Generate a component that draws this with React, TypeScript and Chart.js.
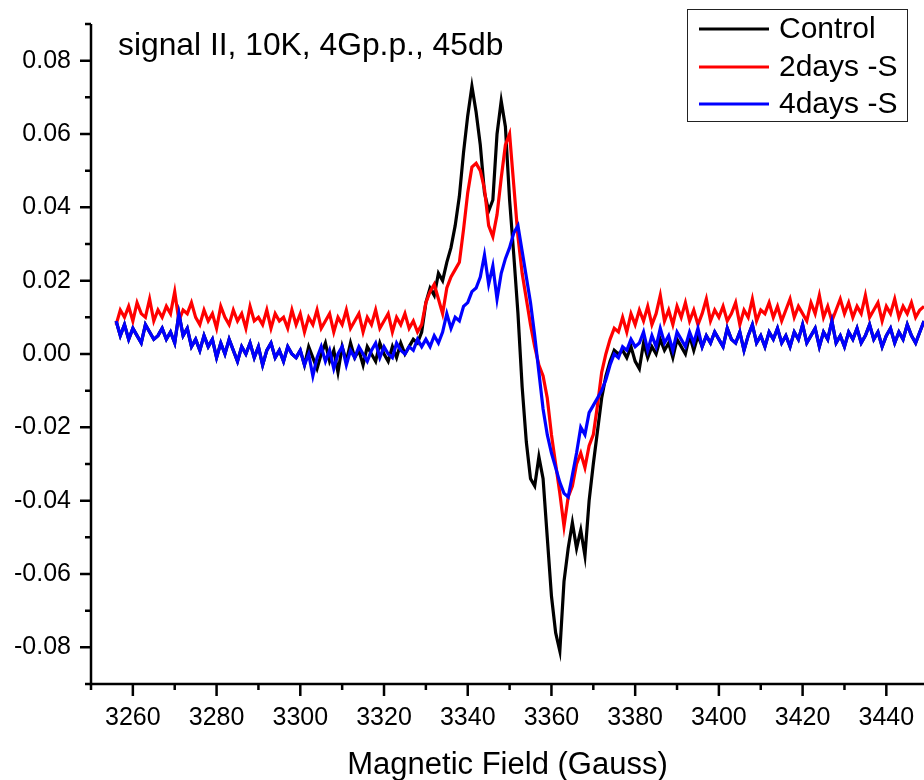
import React, { useEffect, useRef } from 'react';
import { Chart, registerables } from 'chart.js';

Chart.register(...registerables);

const FONT = '"Liberation Sans", Arial, Helvetica, sans-serif';

// Field sweep: one sample per gauss, starting at 3256 G
const fieldStart = 3256;
const fieldStep = 1;

// EPR first-derivative signal, in thousandths of the plotted intensity unit
const control = [
  9, 5, 8, 4, 7, 5, 3, 8, 6, 4,
  5, 7, 4, 6, 3, 11, 5, 7, 2, 4,
  1, 5, 2, 4, -1, 3, 0, 4, 1, -2,
  2, 0, 3, -1, 2, -3, 1, 3, -1, 1,
  -2, 2, 0, -1, 1, -3, 2, -1, -4, 0,
  3, -2, 1, -5, 2, -2, 3, -1, 1, -3,
  2, 0, -2, 3, 0, -2, 2, -1, 3, 0,
  2, 4, 3, 6, 14, 18, 16, 22, 20, 25,
  29, 35, 43, 55, 65, 73, 66, 57, 44, 39,
  42, 60, 69, 62, 42, 27, 11, -9, -24, -34,
  -36, -28, -34, -50, -66, -76, -81, -62, -53, -46,
  -53, -48, -55, -40, -30, -21, -12, -6, -2, 1,
  0, 1, -1, 2, -2, -4, 3, -1, 2, 0,
  4, 1, 3, -1, 4, 2, 0, 5, 1, 5,
  2, 5, 3, 6, 4, 2, 7, 4, 3, 6,
  1, 5, 8, 3, 5, 2, 6, 4, 7, 3,
  5, 2, 6, 4, 8, 3, 5, 7, 2, 6,
  4, 9, 3, 5, 2, 6, 4, 7, 3, 5,
  8, 4, 6, 2, 5, 7, 3, 6, 4, 8,
  5, 3, 6, 9,
];

const twoDays = [
  8, 12, 10, 13, 9, 14, 11, 10, 15, 9,
  12, 10, 13, 11, 17, 9, 12, 11, 14, 10,
  8, 12, 9, 11, 7, 13, 10, 8, 12, 9,
  11, 7, 13, 9, 10, 8, 12, 7, 11, 9,
  10, 7, 12, 8, 11, 6, 10, 8, 12, 7,
  9, 11, 6, 10, 8, 12, 7, 9, 11, 6,
  10, 8, 12, 7, 9, 11, 6, 10, 8, 11,
  7, 9, 6, 8, 14, 17, 19, 15, 11, 18,
  21, 23, 25, 34, 44, 51, 52, 50, 45, 35,
  32, 38, 48, 57, 60, 46, 32, 22, 15, 8,
  2, -3, -6, -12, -22, -30, -38, -47, -39, -36,
  -30, -27, -31, -25, -22, -14, -5, 0, 4, 7,
  6, 10, 6, 11, 8, 12, 9, 13, 8, 11,
  16, 9, 12, 8, 13, 10, 14, 9, 12, 8,
  11, 15, 9, 12, 10, 13, 9, 11, 14, 8,
  12, 10, 15, 9, 12, 11, 14, 10, 13, 9,
  12, 15, 10, 13, 11, 9, 14, 11, 16, 10,
  13, 9, 12, 15, 11, 14, 10, 13, 11, 16,
  10, 12, 14, 9, 13, 11, 15, 10, 13, 11,
  14, 10, 12, 13,
];

const fourDays = [
  9, 5, 8, 4, 7, 5, 3, 8, 6, 4,
  5, 7, 4, 6, 3, 11, 5, 7, 2, 4,
  1, 5, 2, 4, -1, 3, 0, 4, 1, -2,
  2, 0, 3, -1, 2, -3, 1, 3, -1, 1,
  -2, 2, 0, -1, 1, -3, 0, -6, -1, 2,
  -2, 1, -4, 0, 2, -3, 1, -1, 2, 0,
  -2, 1, 3, -1, 2, 0, -1, 3, 1, 0,
  2, 1, 4, 2, 4, 2, 5, 3, 6, 11,
  7, 10, 9, 13, 14, 17, 18, 21, 27, 19,
  24, 15, 22, 26, 29, 33, 35, 28, 21, 14,
  5, -5, -15, -22, -27, -31, -35, -38, -39, -33,
  -27, -20, -22, -16, -14, -12, -10, -7, -3, 0,
  -1, 2, 1, 4, 2, 3, 6, 1, 5, 2,
  7, 3, 5, 1, 6, 4, 2, 6, 3, 7,
  2, 5, 3, 6, 4, 2, 7, 4, 3, 6,
  1, 5, 8, 3, 5, 2, 6, 4, 7, 3,
  5, 2, 6, 4, 8, 3, 5, 7, 2, 6,
  4, 9, 3, 5, 2, 6, 4, 7, 3, 5,
  8, 4, 6, 2, 5, 7, 3, 6, 4, 8,
  5, 3, 6, 9,
];

const seriesValues = [control, twoDays, fourDays];
const seriesLabels = ['Control', '2days -S', '4days -S'];
const seriesColors = ['#000000', '#ff0000', '#0000ff'];

const xRange = [3250, 3449];
const yRange = [-0.09, 0.09];
const xMajorTicks = [3260, 3280, 3300, 3320, 3340, 3360, 3380, 3400, 3420, 3440];
const xMinorTicks = [3250, 3270, 3290, 3310, 3330, 3350, 3370, 3390, 3410, 3430];
const yMajorTicks = [-0.08, -0.06, -0.04, -0.02, 0, 0.02, 0.04, 0.06, 0.08];
const yMinorTicks = [-0.09, -0.07, -0.05, -0.03, -0.01, 0.01, 0.03, 0.05, 0.07, 0.09];

const titleText = 'signal II, 10K, 4Gp.p., 45db';
const xAxisTitle = 'Magnetic Field (Gauss)';

const toPoints = (values: number[]) =>
  values.map((v, i) => ({ x: fieldStart + i * fieldStep, y: v / 1000 }));

// Axes, tick marks, in-plot caption, legend box and axis title
const decorPlugin = {
  id: 'decor',
  afterDraw(chart: any) {
    const { ctx, chartArea: a, scales } = chart;
    const xs = scales.x;
    const ys = scales.y;
    ctx.save();
    ctx.strokeStyle = '#000';
    ctx.lineWidth = 2.5;
    ctx.lineCap = 'butt';

    ctx.beginPath();
    ctx.moveTo(a.left, a.top);
    ctx.lineTo(a.left, a.bottom);
    ctx.lineTo(a.right, a.bottom);
    ctx.stroke();

    const tick = (vals: number[], len: number, horizontal: boolean) => {
      ctx.beginPath();
      vals.forEach((v) => {
        if (horizontal) {
          const px = xs.getPixelForValue(v);
          ctx.moveTo(px, a.bottom);
          ctx.lineTo(px, a.bottom + len);
        } else {
          const py = ys.getPixelForValue(v);
          ctx.moveTo(a.left, py);
          ctx.lineTo(a.left - len, py);
        }
      });
      ctx.stroke();
    };
    tick(xMajorTicks, 12, true);
    tick(xMinorTicks, 6, true);
    tick(yMajorTicks, 11, false);
    tick(yMinorTicks, 6, false);

    ctx.fillStyle = '#000';
    ctx.textBaseline = 'alphabetic';

    ctx.font = `31.8px ${FONT}`;
    ctx.textAlign = 'left';
    ctx.fillText(titleText, 118, 55);

    ctx.font = `31px ${FONT}`;
    ctx.textAlign = 'center';
    ctx.fillText(xAxisTitle, (a.left + a.right) / 2, 774);

    // legend
    const bx = 687, by = 9, bw = 220, bh = 112;
    ctx.fillStyle = '#fff';
    ctx.fillRect(bx, by, bw, bh);
    ctx.lineWidth = 1;
    ctx.strokeStyle = '#222';
    ctx.strokeRect(bx + 0.5, by + 0.5, bw, bh);
    const rowY = [29, 67, 104];
    ctx.font = `30px ${FONT}`;
    ctx.textAlign = 'left';
    ctx.textBaseline = 'middle';
    seriesLabels.forEach((label, k) => {
      ctx.strokeStyle = seriesColors[k];
      ctx.lineWidth = 3;
      ctx.beginPath();
      ctx.moveTo(699, rowY[k]);
      ctx.lineTo(769, rowY[k]);
      ctx.stroke();
      ctx.fillStyle = '#000';
      ctx.fillText(label, 779, rowY[k] + 1);
    });
    ctx.restore();
  },
};

export default function App() {
  const canvasRef = useRef<HTMLCanvasElement | null>(null);

  useEffect(() => {
    if (!canvasRef.current) return;
    const chart = new Chart(canvasRef.current, {
      type: 'line',
      data: {
        datasets: seriesValues.map((vals, k) => ({
          label: seriesLabels[k],
          data: toPoints(vals),
          borderColor: seriesColors[k],
          backgroundColor: seriesColors[k],
          borderWidth: 3.2,
          pointRadius: 0,
          fill: false,
          tension: 0,
          order: seriesValues.length - k,
        })),
      },
      options: {
        animation: false,
        responsive: false,
        maintainAspectRatio: false,
        layout: { padding: { top: 24, right: 0, bottom: 0, left: 0 } },
        plugins: {
          legend: { display: false },
          tooltip: { enabled: false },
          title: { display: false },
        },
        scales: {
          x: {
            type: 'linear',
            min: xRange[0],
            max: xRange[1],
            grid: { display: false, drawTicks: false },
            border: { display: false },
            afterBuildTicks: (s: any) => {
              s.ticks = xMajorTicks.map((v) => ({ value: v }));
            },
            afterFit: (s: any) => {
              s.height = 96;
              s.paddingLeft = 0;
              s.paddingRight = 0;
            },
            ticks: {
              color: '#000',
              padding: 19,
              maxRotation: 0,
              autoSkip: false,
              font: { family: FONT, size: 25 },
              callback: (v: any) => String(v),
            },
          },
          y: {
            type: 'linear',
            min: yRange[0],
            max: yRange[1],
            grid: { display: false, drawTicks: false },
            border: { display: false },
            afterBuildTicks: (s: any) => {
              s.ticks = yMajorTicks.map((v) => ({ value: v }));
            },
            afterFit: (s: any) => {
              s.width = 91;
              s.paddingTop = 0;
              s.paddingBottom = 0;
            },
            ticks: {
              color: '#000',
              padding: 20,
              autoSkip: false,
              font: { family: FONT, size: 25 },
              callback: (v: any) => Number(v).toFixed(2),
            },
          },
        },
      },
      plugins: [decorPlugin],
    });
    return () => chart.destroy();
  }, []);

  return (
    <div style={{ position: 'absolute', left: 0, top: 0, width: 924, height: 780, background: '#fff' }}>
      <canvas ref={canvasRef} width={924} height={780} style={{ display: 'block' }} />
    </div>
  );
}
